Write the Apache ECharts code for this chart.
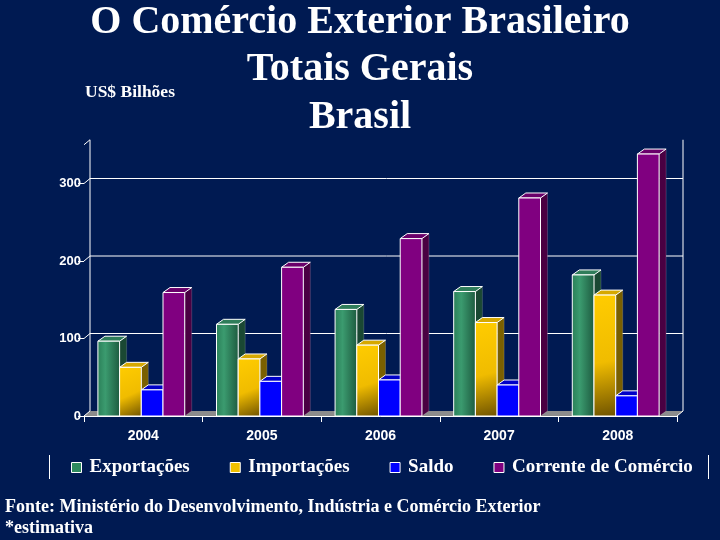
<!DOCTYPE html>
<html><head><meta charset="utf-8">
<script src="https://cdn.jsdelivr.net/npm/echarts@6/dist/echarts.min.js"></script>
<style>html,body{margin:0;padding:0;background:#001a52;}#c{width:720px;height:540px;}</style>
</head><body><div id="c"></div>
<script>
const years = ['2004', '2005', '2006', '2007', '2008'];
const exportacoes = [96.5, 118.3, 137.5, 160.6, 182.0];
const importacoes = [62.8, 73.6, 91.4, 120.6, 156.0];
const saldo = [33.7, 44.7, 46.5, 40.0, 26.0];
const corrente = [159.3, 191.9, 228.9, 281.3, 338.0];
const yTicks = [0, 100, 200, 300];
const seriesNames = ['Exportações', 'Importações', 'Saldo', 'Corrente de Comércio'];
const titleLines = ['O Comércio Exterior Brasileiro', 'Totais Gerais', 'Brasil'];

const SERIF = '"Liberation Serif","Times New Roman",serif';
const SANS = '"Liberation Sans",Arial,sans-serif';

const styles = [
  { front: { type: 'linear', x: 0, y: 0, x2: 1, y2: 0, colorStops: [
      { offset: 0, color: '#2a7f58' }, { offset: 0.35, color: '#3b9b6f' }, { offset: 1, color: '#1d5a3f' }] },
    top: '#2f7d5a', side: '#1a4833', legend: '#2e8b5e' },
  { front: { type: 'linear', x: 0, y: 0, x2: 1, y2: 1, colorStops: [
      { offset: 0, color: '#ffcc00' }, { offset: 0.55, color: '#f0bc00' }, { offset: 1, color: '#6e5200' }] },
    top: '#d6a800', side: '#7a6000', legend: '#f0c000' },
  { front: '#0000ff', top: '#0000c8', side: '#00008a', legend: '#0000ff' },
  { front: '#800080', top: '#6a006a', side: '#4a0042', legend: '#800080' }
];
const seriesData = [exportacoes, importacoes, saldo, corrente];

function barRenderer(k) {
  return function (params, api) {
    const ci = api.value(0), v = api.value(1);
    const base = api.coord([ci, 0]);
    const top = api.coord([ci, v]);
    const cw = api.size([1, 0])[0];
    const bw = cw * 0.183;
    const dx = 7, dy = 5;
    const l = base[0] - 2 * bw - 2 + k * bw;
    const r = l + bw;
    const t = top[1], b = base[1];
    const st = styles[k];
    return {
      type: 'group',
      children: [
        { type: 'polygon', shape: { points: [[r, t], [r + dx, t - dy], [r + dx, b - dy], [r, b]] },
          style: { fill: st.side, stroke: 'rgba(255,255,255,0.35)', lineWidth: 0.5 } },
        { type: 'polygon', shape: { points: [[l, t], [l + dx, t - dy], [r + dx, t - dy], [r, t]] },
          style: { fill: st.top, stroke: '#ffffff', lineWidth: 1 } },
        { type: 'rect', shape: { x: l, y: t, width: bw, height: b - t },
          style: { fill: st.front, stroke: '#ffffff', lineWidth: 1 } }
      ]
    };
  };
}

function wallRenderer(params, api) {
  const cs = params.coordSys;
  const L = cs.x, R = cs.x + cs.width, B = cs.y + cs.height, T = cs.y;
  const dx = 6, dy = 5;
  const line = (x1, y1, x2, y2) => ({ type: 'line', shape: { x1, y1, x2, y2 },
    style: { stroke: '#ffffff', lineWidth: 1 } });
  const children = [
    { type: 'polygon', shape: { points: [[L, B], [L + dx, B - dy], [R + dx, B - dy], [R, B]] },
      style: { fill: '#8c8c8c' } },
    line(L + dx, B - dy, L + dx, T - dy),
    line(L, T, L + dx, T - dy),
    line(R + dx, T - dy, R + dx, B - dy),
    line(R, B, R + dx, B - dy)
  ];
  yTicks.forEach(v => {
    const y = api.coord([0, v])[1];
    children.push(line(L, y, L + dx, y - dy));
    if (v > 0) children.push(line(L + dx, y - dy, R + dx, y - dy));
  });
  return { type: 'group', children };
}

const chart = echarts.init(document.getElementById('c'));
const series = [{
  type: 'custom', name: 'wall', z: 1, silent: true,
  renderItem: wallRenderer, data: [[0, 0]]
}];
seriesNames.forEach((name, k) => {
  series.push({
    type: 'custom', name, z: 2,
    itemStyle: { color: styles[k].legend },
    renderItem: barRenderer(k),
    data: seriesData[k].map((v, i) => [i, v])
  });
});

const graphic = titleLines.map((t, i) => ({
  type: 'text', x: 360, y: 22.5 + i * 47.5,
  style: { text: t, fill: '#ffffff', font: 'bold 40px ' + SERIF, textAlign: 'center', textVerticalAlign: 'middle' }
}));
graphic.push(
  { type: 'text', x: 85, y: 92, style: { text: 'US$ Bilhões', fill: '#ffffff',
    font: 'bold 17.5px ' + SERIF, textVerticalAlign: 'middle' } },
  { type: 'text', x: 5, y: 507, style: { text: 'Fonte: Ministério do Desenvolvimento, Indústria e Comércio Exterior', fill: '#ffffff',
    font: 'bold 18px ' + SERIF, textVerticalAlign: 'middle' } },
  { type: 'text', x: 5, y: 528, style: { text: '*estimativa', fill: '#ffffff',
    font: 'bold 18px ' + SERIF, textVerticalAlign: 'middle' } },
  { type: 'line', shape: { x1: 49.5, y1: 455, x2: 49.5, y2: 479 }, style: { stroke: '#ffffff', lineWidth: 1 } },
  { type: 'line', shape: { x1: 708.5, y1: 455, x2: 708.5, y2: 479 }, style: { stroke: '#ffffff', lineWidth: 1 } }
);

chart.setOption({
  backgroundColor: '#001a52',
  animation: false,
  graphic,
  legend: {
    data: seriesNames,
    left: 66, top: 453,
    itemWidth: 10, itemHeight: 10, itemGap: 40,
    icon: 'rect',
    itemStyle: { borderColor: '#ffffff', borderWidth: 1 },
    textStyle: { color: '#ffffff', fontFamily: SERIF, fontWeight: 'bold', fontSize: 19, padding: [0, 0, 0, 3] }
  },
  grid: { left: 84, right: 43, top: 144.75, bottom: 124 },
  xAxis: {
    type: 'category', data: years,
    axisLine: { show: true, lineStyle: { color: '#ffffff', width: 1 } },
    axisTick: { show: true, length: 6, lineStyle: { color: '#ffffff' } },
    axisLabel: { color: '#ffffff', fontFamily: SANS, fontWeight: 'bold', fontSize: 14, margin: 13 },
    splitLine: { show: false }
  },
  yAxis: {
    type: 'value', min: 0, max: 350, interval: 50,
    axisLine: { show: false },
    axisTick: { show: true, length: 6, customValues: yTicks, lineStyle: { color: '#ffffff' } },
    axisLabel: { color: '#ffffff', fontFamily: SANS, fontWeight: 'bold', fontSize: 13, margin: 3, customValues: yTicks },
    splitLine: { show: false }
  },
  series
});
</script></body></html>
